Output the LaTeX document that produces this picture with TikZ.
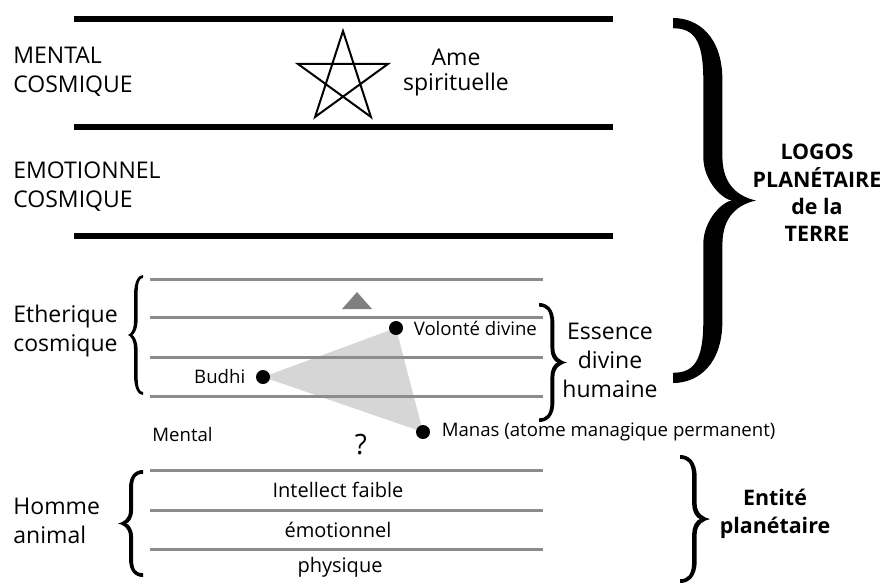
\documentclass[tikz,border=0pt]{standalone}
\usepackage{fontspec}
\setmainfont{Open Sans}
\usetikzlibrary{positioning}

% accolade remplie dans une boite unite (0..1), pointe a droite
\newcommand{\bracepath}[2]{%
  (0,0) .. controls (0.3,0) and (0.48+#1,0.05) .. (0.48+#1,0.17)
  -- (0.48+#1,0.38) .. controls (0.48+#1,0.46) and (0.8,0.49) .. (1,0.5)
  .. controls (0.8,0.51) and (0.48+#1,0.54) .. (0.48+#1,0.62)
  -- (0.48+#1,0.83) .. controls (0.48+#1,0.95) and (0.3,1) .. (0,1)
  -- (0,1-#2) .. controls (0.25,1-#2) and (0.48-#1,0.94) .. (0.48-#1,0.83)
  -- (0.48-#1,0.62) .. controls (0.48-#1,0.55) and (0.5+#1,0.5) .. (0.6+#1,0.5)
  .. controls (0.5+#1,0.5) and (0.48-#1,0.45) .. (0.48-#1,0.38)
  -- (0.48-#1,0.17) .. controls (0.48-#1,0.06) and (0.25,#2) .. (0,#2)
  -- cycle}

\begin{document}
\begin{tikzpicture}[x=0.5pt, y=-0.5pt, every node/.style={inner sep=0pt},
  thick rule/.style={line width=2.8pt},
  thin rule/.style={draw=black!45, line width=1.5pt},
  big/.style={font=\fontsize{11.5}{14.5}\selectfont, align=left},
  small/.style={font=\fontsize{9.3}{11}\selectfont},
  layer/.style={font=\fontsize{10}{12}\selectfont},
  bold/.style={font=\fontsize{10.7}{13.7}\selectfont\bfseries, align=center},
  dot/.style={circle, fill=black, minimum size=7pt}]

\useasboundingbox (0,0) rectangle (887,585);

% plans cosmiques
\draw[thick rule] (74,19)--(613,19);
\draw[thick rule] (74,127)--(613,127);
\draw[thick rule] (74,236)--(613,236);

\node[big, anchor=west] (mentalcos) at (13,72) {MENTAL\\COSMIQUE};
\node[big, anchor=west] (emocos) at (13,187) {EMOTIONNEL\\COSMIQUE};

\draw[line width=1pt, line join=miter, shift={(343,78.5)}]
  (-90:47.5)--(54:47.5)--(198:47.5)--(-18:47.5)--(126:47.5)--cycle;
\node[font=\fontsize{11.5}{12.5}\selectfont, align=center] (ame) at (456,73) {Ame\\spirituelle};

% etherique cosmique
\coordinate (pvol) at (396,328);
\coordinate (pbud) at (263,377);
\coordinate (pman) at (423,432);
\fill[black!16] (pvol)--(pbud)--(pman)--cycle;
\fill[black!50] (342,309)--(357,292)--(372,309)--cycle;

\foreach \y in {279,317,357,396}
  \draw[thin rule] (150,\y)--(543,\y);

\node[dot] (voldot) at (pvol) {};
\node[dot] (buddot) at (pbud) {};
\node[dot] (mandot) at (pman) {};
\node[small, right=5pt of voldot] (vollab) {Volonté divine};
\node[small, left=5pt of buddot] (budlab) {Budhi};
\node[small, right=5.5pt of mandot] (manlab) {Manas (atome managique permanent)};

\node[big, anchor=west] (ether) at (13,331) {Etherique\\cosmique};
\fill[shift={(143,275)}, xscale=-15, yscale=120] \bracepath{0.12}{0.025};
\fill[shift={(539,303)}, xscale=28, yscale=119] \bracepath{0.07}{0.03};
\node[big, align=center] (essence) at (610,360) {Essence\\divine\\humaine};

\node[small, anchor=west] (mental) at (152,435) {Mental};
\node[font=\fontsize{14}{16}\selectfont] (quest) at (361,445) {?};

% homme animal
\foreach \y in {470,510,549}
  \draw[thin rule] (150,\y)--(543,\y);

\node[layer] (intel) at (338,490) {Intellect faible};
\node[layer] (emo) at (338,530) {émotionnel};
\node[layer] (phys) at (340,567) {physique};

\node[big, anchor=west] (homme) at (13,521) {Homme\\animal};
\fill[shift={(143,470)}, xscale=-25, yscale=107] \bracepath{0.08}{0.035};
\fill[shift={(680,455)}, xscale=30, yscale=128] \bracepath{0.075}{0.03};
\node[bold] (entite) at (775,514) {Entité\\planétaire};

% logos
\fill[shift={(673,18)}, xscale=83, yscale=365] \bracepath{0.115}{0.028};
\node[bold] (logos) at (817,193) {LOGOS\\PLANÉTAIRE\\de la\\TERRE};

\end{tikzpicture}
\end{document}
